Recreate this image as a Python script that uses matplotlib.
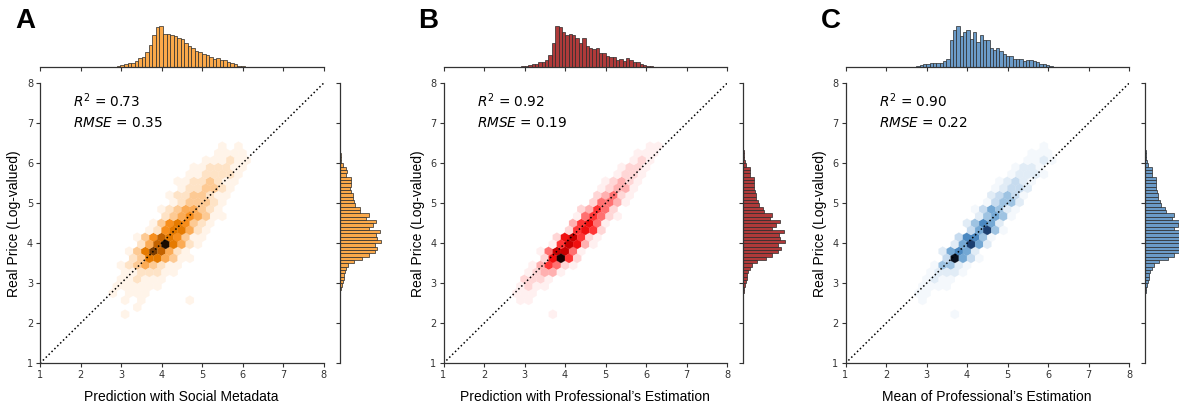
import numpy as np
import matplotlib
matplotlib.use("Agg")
import matplotlib.pyplot as plt
from matplotlib.colors import ListedColormap

# ---- marginal histograms (bar heights) ----
# real price (y) is the same variable in all three panels
price_bin_start, price_bin_width = 2.58, 0.0833
price_counts = [1, 1, 2, 4, 6, 10, 12, 12, 16, 20, 26, 42, 68, 88, 105, 113, 105, 125, 112,
                108, 122, 88, 100, 110, 80, 88, 62, 60, 47, 44, 40, 40, 35, 32, 33, 33, 33,
                20, 22, 20, 10, 5, 4, 3, 2]

social_bin_start, social_bin_width = 2.55, 0.0875
social_counts = [1, 1, 1, 1, 3, 5, 8, 11, 13, 17, 26, 31, 45, 65, 95, 120, 123, 97, 97, 95,
                 92, 87, 82, 72, 62, 55, 48, 44, 40, 36, 30, 25, 27, 22, 20, 16, 12, 9, 4, 2]

prof_bin_start, prof_bin_width = 2.673, 0.0834
prof_counts = [1, 1, 1, 2, 3, 6, 8, 10, 14, 16, 20, 35, 70, 122, 118, 103, 95, 98, 94, 85,
               72, 84, 62, 57, 52, 57, 40, 40, 32, 30, 30, 20, 25, 17, 27, 22, 16, 14, 10, 6,
               3, 2]

mean_bin_start, mean_bin_width = 2.67, 0.082
mean_counts = [1, 3, 6, 8, 10, 12, 12, 12, 13, 18, 25, 80, 108, 122, 92, 103, 108, 82, 103,
               75, 95, 80, 80, 55, 50, 55, 48, 38, 33, 32, 25, 25, 25, 18, 20, 20, 18, 15, 10,
               10, 5, 3]

# ---- hexbin density levels (1 = faint ... 9 = darkest), one row per hex row,
# top row is y = 6.425, each row 0.175 lower; first column is x = 2.2, step 0.2
social_levels = [
    "................1.1....",
    "................1111...",
    "..............111211...",
    ".............1122211...",
    "............1122221....",
    "...........11223211....",
    "...........1223321.....",
    "..........12233211.....",
    "..........1233321......",
    ".........12344321......",
    ".........23454311......",
    "........13565321.......",
    ".......12566421........",
    "......135765311........",
    "......24796421.........",
    ".....13687421..........",
    ".....23664311..........",
    "....12343211...........",
    "....1122211............",
    "....112111.............",
    "...111111..............",
    "...1.111...............",
    "....1.1.....1..........",
    "......1................",
    "....1..................",
]

prof_levels = [
    "...................11..",
    "..................111..",
    ".................121...",
    "................1221...",
    "...............1221....",
    "..............12321....",
    ".............12331.....",
    ".............23421.....",
    "............24431......",
    "...........23542.......",
    "..........145421.......",
    "..........35641........",
    ".........25652.........",
    "........267521.........",
    ".......157631..........",
    "......147741...........",
    "......26952............",
    ".....135421............",
    "....12331..............",
    "....2221...............",
    "...1211................",
    "...111.................",
    "...11..................",
    ".......................",
    ".......1...............",
]

mean_levels = [
    "..................1....",
    ".................111...",
    "................1121...",
    "...............1221....",
    "..............12221....",
    ".............12321.....",
    "............12332......",
    "............23431......",
    "...........13442.......",
    "..........135421.......",
    "..........24541........",
    ".........24652.........",
    ".........35841.........",
    "........36641..........",
    ".......25852...........",
    "......25652............",
    "......39531............",
    ".....14421.............",
    "....12221..............",
    "....1211...............",
    "...1111................",
    "...11..................",
    "...1...................",
    ".......................",
    ".......1...............",
]

# hex lattice used by ax.hexbin with extent (1, 8, 1, 8) and gridsize (35, 20)
LIM = (1, 8)
GRID = (35, 20)
HEX_SX = 7 / GRID[0]
HEX_SY = 7 / GRID[1]
TOP_ROW = 31
FIRST_COL = 6


def hex_cells(rows):
    xs, ys, cs = [], [], []
    for r, line in enumerate(rows):
        k = TOP_ROW - r
        for c, ch in enumerate(line):
            if ch != ".":
                xs.append(LIM[0] + (FIRST_COL + c + 0.5 * (k % 2)) * HEX_SX)
                ys.append(LIM[0] + k * HEX_SY / 2)
                cs.append(int(ch))
    return np.array(xs), np.array(ys), np.array(cs)


panels = [
    dict(letter="A", left=40, xlabel="Prediction with Social Metadata", r2="0.73", rmse="0.35",
         levels=social_levels, start=social_bin_start, width=social_bin_width, counts=social_counts,
         bar="#fba94a",
         shades=["#fff4e9", "#fee3c6", "#fdca94", "#fbab55", "#f78e1c", "#e57a00", "#c26200", "#7a3c00", "#1a0c00"]),
    dict(letter="B", left=443.5, xlabel="Prediction with Professional\u2019s Estimation", r2="0.92", rmse="0.19",
         levels=prof_levels, start=prof_bin_start, width=prof_bin_width, counts=prof_counts,
         bar="#b03a3a",
         shades=["#fff0f0", "#ffd6d6", "#ffb0b0", "#ff7070", "#ff3535", "#f01010", "#c80000", "#8a0000", "#1a0000"]),
    dict(letter="C", left=845.5, xlabel="Mean of Professional\u2019s Estimation", r2="0.90", rmse="0.22",
         levels=mean_levels, start=mean_bin_start, width=mean_bin_width, counts=mean_counts,
         bar="#6b9bc8",
         shades=["#f4f8fc", "#e1ecf6", "#c6dbef", "#9ec3e2", "#74a8d4", "#4b88c0", "#2c64a0", "#1c3f70", "#08101e"]),
]

W, H = 1179, 407
fig = plt.figure(figsize=(W / 100, H / 100), dpi=100)


def box(x0, y_top, w, h):
    return [x0 / W, 1 - (y_top + h) / H, w / W, h / H]


MAIN_TOP, MAIN_W, MAIN_H = 83.3, 283.5, 280
ticks = range(1, 9)
spine_col = "#333333"

for p in panels:
    x0 = p["left"]
    ax = fig.add_axes(box(x0, MAIN_TOP, MAIN_W, MAIN_H))
    ax_top = fig.add_axes(box(x0, MAIN_TOP - 16.3 - 43.5, MAIN_W, 43.5))
    ax_right = fig.add_axes(box(x0 + MAIN_W + 16, MAIN_TOP, 43.8, MAIN_H))

    xs, ys, cs = hex_cells(p["levels"])
    ax.hexbin(xs, ys, C=cs, reduce_C_function=np.max, gridsize=GRID, extent=LIM + LIM,
              cmap=ListedColormap(p["shades"]), vmin=0.5, vmax=9.5,
              linewidths=0.2, edgecolors="face", zorder=1)
    ax.plot(LIM, LIM, ls=":", color="black", lw=1.1, zorder=2)
    ax.set_xlim(LIM)
    ax.set_ylim(LIM)
    ax.set_xticks(ticks)
    ax.set_yticks(ticks)
    ax.tick_params(labelsize=7, length=3, width=0.8, pad=2, colors="#333333")
    for s in ["top", "right"]:
        ax.spines[s].set_visible(False)
    for s in ["left", "bottom"]:
        ax.spines[s].set_color(spine_col)
        ax.spines[s].set_linewidth(0.9)
    ax.set_xlabel(p["xlabel"], fontsize=10, family="Liberation Sans", labelpad=7)
    ax.set_ylabel("Real Price (Log-valued)", fontsize=10, family="Liberation Sans", labelpad=4)
    ax.text(0.117, 0.915, "$R^2$ = " + p["r2"], transform=ax.transAxes, fontsize=9.8,
            va="baseline")
    ax.text(0.117, 0.845, "$RMSE$ = " + p["rmse"], transform=ax.transAxes, fontsize=9.8,
            va="baseline")

    # top marginal: model prediction
    edges = p["start"] + np.arange(len(p["counts"])) * p["width"]
    ax_top.bar(edges, p["counts"], width=p["width"], align="edge", color=p["bar"],
               edgecolor="#2a2a2a", linewidth=0.5)
    ax_top.set_xlim(LIM)
    ax_top.set_ylim(0, max(p["counts"]) * 1.05)
    ax_top.set_xticks(ticks)
    ax_top.set_yticks([])
    ax_top.tick_params(labelbottom=False, length=3, width=0.8, colors=spine_col)
    for s in ["top", "right", "left"]:
        ax_top.spines[s].set_visible(False)
    ax_top.spines["bottom"].set_color(spine_col)
    ax_top.spines["bottom"].set_linewidth(0.9)

    # right marginal: real price
    y_edges = price_bin_start + np.arange(len(price_counts)) * price_bin_width
    ax_right.barh(y_edges, price_counts, height=price_bin_width, align="edge", color=p["bar"],
                  edgecolor="#2a2a2a", linewidth=0.5)
    ax_right.set_ylim(LIM)
    ax_right.set_xlim(0, max(price_counts) * 1.05)
    ax_right.set_yticks(ticks)
    ax_right.set_xticks([])
    ax_right.tick_params(labelleft=False, length=3, width=0.8, colors=spine_col)
    for s in ["top", "right", "bottom"]:
        ax_right.spines[s].set_visible(False)
    ax_right.spines["left"].set_color(spine_col)
    ax_right.spines["left"].set_linewidth(0.9)

    fig.text((x0 - 25) / W, 1 - 8 / H, p["letter"], fontsize=20, fontweight="bold",
             family="Liberation Sans", va="top", ha="left")

fig.savefig("out.png", dpi=100, facecolor="white")
